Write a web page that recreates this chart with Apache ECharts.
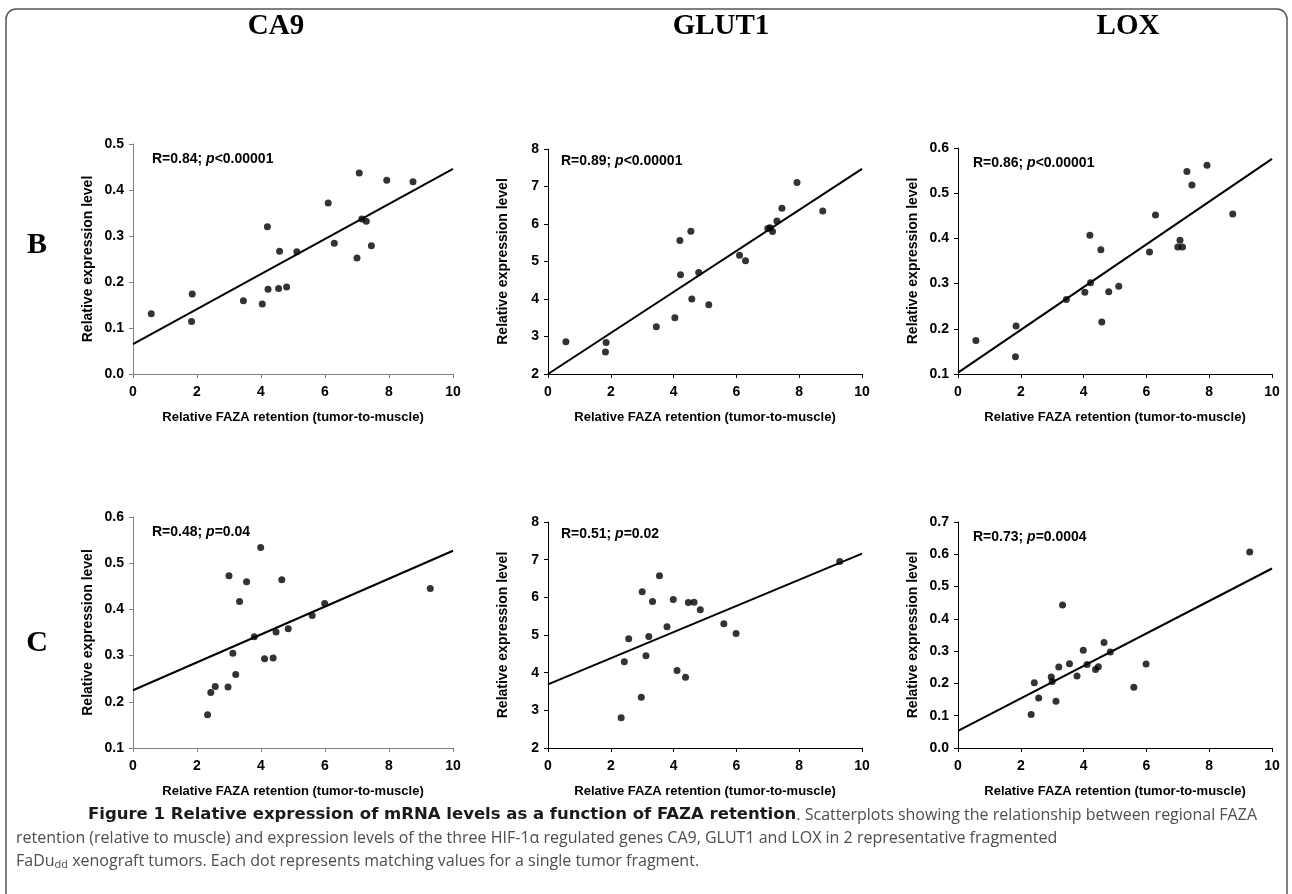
<!DOCTYPE html>
<html>
<head>
<meta charset="utf-8">
<title>Figure 1</title>
<script src="https://cdn.jsdelivr.net/npm/echarts@6.0.0/dist/echarts.min.js"></script>
<style>
html, body { margin: 0; padding: 0; background: #fff; }
#fig { width: 1292px; height: 894px; }
</style>
</head>
<body>
<div id="fig"></div>
<script>
// x = FAZA retention, same fragments in each row
var X_TICKS = [0, 2, 4, 6, 8, 10];
var FIT_X = [0, 10];

var xB = [0.57, 1.83, 1.85, 3.45, 4.04, 4.20, 4.22, 4.55, 4.58, 4.80, 5.12, 6.10, 6.29, 7.00, 7.07, 7.15, 7.29, 7.45, 7.93, 8.75];
var ca9B = [0.131, 0.114, 0.174, 0.159, 0.152, 0.320, 0.184, 0.186, 0.267, 0.189, 0.266, 0.372, 0.284, 0.252, 0.437, 0.337, 0.332, 0.279, 0.421, 0.418];
var glut1B = [2.86, 2.59, 2.84, 3.26, 3.50, 5.56, 4.65, 5.81, 4.00, 4.71, 3.85, 5.17, 5.02, 5.88, 5.90, 5.80, 6.08, 6.42, 7.11, 6.35];
var loxB = [0.174, 0.138, 0.206, 0.265, 0.281, 0.407, 0.302, 0.375, 0.215, 0.282, 0.294, 0.370, 0.452, 0.381, 0.396, 0.381, 0.548, 0.518, 0.562, 0.454];

var xC = [2.33, 2.43, 2.57, 2.97, 3.00, 3.12, 3.21, 3.33, 3.55, 3.79, 3.99, 4.11, 4.38, 4.47, 4.65, 4.85, 5.60, 5.99, 9.29];
var ca9C = [0.172, 0.220, 0.233, 0.232, 0.473, 0.305, 0.259, 0.417, 0.460, 0.341, 0.534, 0.293, 0.295, 0.351, 0.464, 0.358, 0.387, 0.413, 0.445];
var glut1C = [2.80, 4.29, 4.90, 3.35, 6.15, 4.45, 4.96, 5.89, 6.57, 5.22, 5.94, 4.06, 3.88, 5.86, 5.87, 5.67, 5.30, 5.04, 6.95];
var loxC = [0.104, 0.202, 0.155, 0.220, 0.206, 0.145, 0.251, 0.443, 0.261, 0.223, 0.303, 0.259, 0.243, 0.252, 0.327, 0.297, 0.188, 0.260, 0.607];

// regression line, y at x=0 and x=10
var ca9B_fit = [0.065, 0.446];
var glut1B_fit = [2.0, 7.47];
var loxB_fit = [0.103, 0.576];
var ca9C_fit = [0.225, 0.527];
var glut1C_fit = [3.69, 7.16];
var loxC_fit = [0.053, 0.556];

// y tick labels
var ca9B_ticks = [0.0, 0.1, 0.2, 0.3, 0.4, 0.5];
var glut1B_ticks = [2, 3, 4, 5, 6, 7, 8];
var loxB_ticks = [0.1, 0.2, 0.3, 0.4, 0.5, 0.6];
var ca9C_ticks = [0.1, 0.2, 0.3, 0.4, 0.5, 0.6];
var glut1C_ticks = [2, 3, 4, 5, 6, 7, 8];
var loxC_ticks = [0.0, 0.1, 0.2, 0.3, 0.4, 0.5, 0.6, 0.7];

var genes = ['CA9', 'GLUT1', 'LOX'];
var rows = ['B', 'C'];
var rValues = ['0.84', '0.89', '0.86', '0.48', '0.51', '0.73'];
var pValues = ['<0.00001', '<0.00001', '<0.00001', '=0.04', '=0.02', '=0.0004'];

// tiny stand-in for $.extend
var $ = {
  extend: function (a, b) {
    for (var k in b) { a[k] = b[k]; }
    return a;
  }
};

var fig = {
  box: document.getElementById('fig'),
  // left, top, width, height of each plot
  boxes: [[133, 144, 320, 230], [548, 149, 314, 225], [958, 148, 314, 226],
          [133, 517, 320, 231], [548, 522, 314, 226], [958, 522, 314, 226]],
  noteOff: [[19, 15], [13, 12], [15, 15]],
  sans: '"Liberation Sans", Arial, sans-serif',
  serif: '"Liberation Serif", "Times New Roman", serif',
  init: function () {
    var chart = echarts.init(this.box);
    chart.setOption(this._option());
  },
  _panels: function () {
    return [
      {x: xB, y: ca9B, fit: ca9B_fit, ticks: ca9B_ticks, axis: '#808080'},
      {x: xB, y: glut1B, fit: glut1B_fit, ticks: glut1B_ticks, axis: '#000'},
      {x: xB, y: loxB, fit: loxB_fit, ticks: loxB_ticks, axis: '#000'},
      {x: xC, y: ca9C, fit: ca9C_fit, ticks: ca9C_ticks, axis: '#808080'},
      {x: xC, y: glut1C, fit: glut1C_fit, ticks: glut1C_ticks, axis: '#000'},
      {x: xC, y: loxC, fit: loxC_fit, ticks: loxC_ticks, axis: '#000'}
    ];
  },
  _option: function () {
    var self = this;
    var grid = [], xAxis = [], yAxis = [], series = [], graphic = [];
    var lbl = {fontFamily: self.sans, fontWeight: 'bold', fontSize: 14, color: '#000'};

    this._panels().forEach(function (p, i) {
      var b = self.boxes[i];
      var off = self.noteOff[i % 3];
      var step = +(p.ticks[1] - p.ticks[0]).toFixed(3);
      var dec = step < 1 ? 1 : 0;
      var line = {show: true, onZero: false, lineStyle: {color: p.axis, width: 1}};
      var tick = {show: true, length: 4, lineStyle: {color: p.axis, width: 1}};

      grid.push({left: b[0], top: b[1], width: b[2], height: b[3]});
      xAxis.push({
        gridIndex: i, type: 'value',
        min: X_TICKS[0], max: X_TICKS[X_TICKS.length - 1], interval: X_TICKS[1] - X_TICKS[0],
        axisLine: line, axisTick: tick, splitLine: {show: false},
        axisLabel: $.extend({margin: 11}, lbl),
        name: 'Relative FAZA retention (tumor-to-muscle)',
        nameLocation: 'middle', nameGap: 37,
        nameTextStyle: {fontFamily: self.sans, fontWeight: 'bold', fontSize: 13, color: '#000'}
      });
      yAxis.push({
        gridIndex: i, type: 'value',
        min: p.ticks[0], max: p.ticks[p.ticks.length - 1], interval: step,
        axisLine: line, axisTick: tick, splitLine: {show: false},
        axisLabel: $.extend({margin: 9, formatter: function (v) { return v.toFixed(dec); }}, lbl),
        name: 'Relative expression level',
        nameLocation: 'middle', nameGap: 38,
        nameTextStyle: {fontFamily: self.sans, fontWeight: 'bold', fontSize: 14, color: '#000'}
      });

      series.push({
        type: 'scatter', xAxisIndex: i, yAxisIndex: i, silent: true,
        symbolSize: 7, itemStyle: {color: '#000'},
        data: p.x.map(function (v, k) { return [v, p.y[k]]; })
      });
      series.push({
        type: 'line', xAxisIndex: i, yAxisIndex: i, silent: true,
        symbol: 'none', lineStyle: {color: '#000', width: 2},
        data: [[FIT_X[0], p.fit[0]], [FIT_X[1], p.fit[1]]]
      });

      // R / p note
      graphic.push({
        type: 'text', x: b[0] + off[0], y: b[1] + off[1], silent: true,
        style: {
          text: '{t|R=' + rValues[i] + '; }{i|p}{t|' + pValues[i] + '}',
          textVerticalAlign: 'middle',
          rich: {
            t: {fontFamily: self.sans, fontWeight: 'bold', fontSize: 14, fill: '#000'},
            i: {fontFamily: self.sans, fontWeight: 'bold', fontStyle: 'italic', fontSize: 14, fill: '#000'}
          }
        }
      });
    });

    // frame
    graphic.push({
      type: 'rect', silent: true, z: -1,
      shape: {x: 6, y: 9, width: 1281, height: 900, r: [10, 10, 0, 0]},
      style: {fill: 'none', stroke: '#555', lineWidth: 1.5}
    });
    // column titles
    var centers = [276, 721, 1128];
    genes.forEach(function (g, k) {
      graphic.push({
        type: 'text', x: centers[k], y: 27, silent: true,
        style: {text: g, font: 'bold 29px ' + self.serif, fill: '#000', textAlign: 'center', textVerticalAlign: 'middle'}
      });
    });
    // row letters
    var rowY = [245, 643];
    rows.forEach(function (r, k) {
      graphic.push({
        type: 'text', x: 37, y: rowY[k], silent: true,
        style: {text: r, font: 'bold 30px ' + self.serif, fill: '#000', textAlign: 'center', textVerticalAlign: 'middle'}
      });
    });
    // caption
    var cap = {
      b: {fontFamily: '"DejaVu Sans", sans-serif', fontWeight: 'bold', fontSize: 16.5, fill: '#1a1a1a'},
      n: {fontFamily: '"Open Sans", sans-serif', fontSize: 16, fill: '#4d4d4d'},
      s: {fontFamily: '"Open Sans", sans-serif', fontSize: 11, fill: '#4d4d4d', padding: [8, 0, 0, 0]}
    };
    var capLines = [
      [88, '{b|Figure 1 Relative expression of mRNA levels as a function of FAZA retention}{n|. Scatterplots showing the relationship between regional FAZA}'],
      [16, '{n|retention (relative to muscle) and expression levels of the three HIF-1\u03b1 regulated genes CA9, GLUT1 and LOX in 2 representative fragmented}'],
      [16, '{n|FaDu}{s|dd}{n| xenograft tumors. Each dot represents matching values for a single tumor fragment.}']
    ];
    var capY = [815, 838, 861];
    capLines.forEach(function (c, k) {
      graphic.push({
        type: 'text', x: c[0], y: capY[k], silent: true,
        style: {text: c[1], rich: cap, textVerticalAlign: 'middle'}
      });
    });

    return {
      animation: false,
      backgroundColor: '#fff',
      grid: grid, xAxis: xAxis, yAxis: yAxis,
      series: series, graphic: graphic
    };
  }
};

fig.init();
</script>
</body>
</html>
